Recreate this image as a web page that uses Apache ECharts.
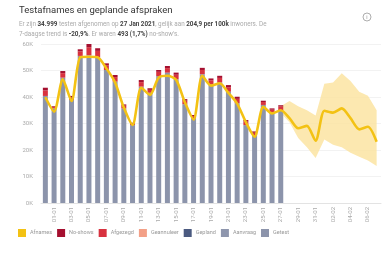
<!DOCTYPE html>
<html>
<head>
<meta charset="utf-8">
<script src="https://cdn.jsdelivr.net/npm/echarts@6/dist/echarts.min.js"></script>
<style>
    html, body { margin: 0; padding: 0; background: #fff; }
    #chart { width: 389px; height: 257px; }
</style>
</head>
<body>
<div id="chart"></div>
<script>
// dagen 31-12 t/m 07-02
var dagen = ['31-12', '01-01', '02-01', '03-01', '04-01', '05-01', '06-01', '07-01', '08-01', '09-01',
    '10-01', '11-01', '12-01', '13-01', '14-01', '15-01', '16-01', '17-01', '18-01', '19-01',
    '20-01', '21-01', '22-01', '23-01', '24-01', '25-01', '26-01', '27-01', '28-01', '29-01',
    '30-01', '31-01', '01-02', '02-02', '03-02', '04-02', '05-02', '06-02', '07-02'];

// afgenomen testen (t/m 27-01)
var afgenomen = [40400, 35700, 47300, 38900, 55500, 55800, 55000, 50200, 45800, 35700,
    29400, 43900, 41600, 47900, 49200, 46700, 37300, 32000, 48600, 44800,
    45500, 42000, 37700, 29400, 25500, 37000, 34100, 34999];
var afgezegd = [2100, 500, 1700, 1000, 1700, 3000, 2400, 1700, 1700, 1000,
    600, 1700, 1100, 1600, 1700, 1700, 1300, 800, 1600, 1500,
    1700, 1700, 1600, 1300, 1000, 1100, 1100, 1400];
var noShows = [1000, 300, 800, 500, 800, 1200, 1000, 800, 800, 500,
    300, 800, 600, 700, 800, 800, 600, 400, 800, 700,
    800, 800, 800, 600, 500, 500, 500, 493];

// trendlijn incl. verwachting
var trend = [39900, 34500, 46700, 38500, 55000, 55200, 55000, 50800, 45500, 36000,
    29500, 43500, 40800, 47300, 48000, 46500, 38000, 31500, 48000, 44300,
    45200, 41500, 37500, 30500, 25000, 36300, 33800, 34999, 32000, 28200,
    29100, 23500, 34800, 34100, 35700, 32000, 27800, 28800, 23100];

// onzekerheidsband vanaf 27-01
var bandStart = 27;
var bandOnder = [34000, 30500, 24500, 21000, 17000, 24000, 22000, 21000, 19000, 17500, 16000, 14000];
var bandBoven = [36500, 38500, 36500, 35000, 33000, 45000, 45500, 49000, 46000, 42000, 40500, 35000];

var legendaNamen = ['Afnames', 'No-shows', 'Afgezegd', 'Geannuleerd', 'Gepland', 'Aanvraag', 'Getest'];

var padLeeg = function (arr, start) {
    var out = [];
    for (var i = 0; i < dagen.length; i++) {
        var j = i - start;
        out.push(j >= 0 && j < arr.length ? arr[j] : '-');
    }
    return out;
};

var onder = padLeeg(bandOnder, bandStart);
var breedte = padLeeg(bandBoven.map(function (v, i) { return v - bandOnder[i]; }), bandStart);

var trendData = trend.map(function (v, i) {
    if (i == 27) {
        return {
            value: v,
            label: {
                show: true, position: 'right', distance: 2,
                formatter: '34.999', fontSize: 7, color: '#444'
            }
        };
    }
    return v;
});

var myChart = echarts.init(document.getElementById('chart'), null, { renderer: 'canvas' });

var option = {
    animation: false,
    textStyle: { fontFamily: 'Roboto, sans-serif' },
    title: {
        left: 14, top: 1,
        text: 'Testafnames en geplande afspraken',
        textStyle: { fontSize: 9.5, fontWeight: 'normal', color: '#333' },
        subtext: '{g|Er zijn }{b|34.999}{g| testen afgenomen op }{b|27 Jan 2021}{g|, gelijk aan }{b|204,9 per 100k}{g| inwoners. De}\n' +
            '{g|7-daagse trend is }{b|-20,9%}{g|. Er waren }{b|493 (1,7%)}{g| no-show\'s.}',
        itemGap: 3,
        subtextStyle: {
            lineHeight: 10.5,
            rich: {
                g: { fontSize: 6.3, color: '#aaa', lineHeight: 10.5 },
                b: { fontSize: 6.3, color: '#444', fontWeight: 'bold', lineHeight: 10.5 }
            }
        }
    },
    graphic: [
        { type: 'circle', shape: { cx: 367, cy: 17, r: 4 }, style: { fill: 'none', stroke: '#999', lineWidth: 0.8 } },
        { type: 'text', x: 367, y: 17, style: { text: 'i', fontSize: 6, fill: '#999', align: 'center', verticalAlign: 'middle' } }
    ],
    legend: {
        left: 18, top: 229, padding: 0,
        icon: 'rect',
        itemWidth: 8, itemHeight: 8, itemGap: 5,
        selectedMode: false,
        data: legendaNamen,
        textStyle: { fontSize: 5.5, color: '#999', width: 31, overflow: 'truncate', ellipsis: '', padding: [0, 0, 0, -1] }
    },
    grid: { left: 41, right: 8, top: 44, bottom: 54, containLabel: false },
    xAxis: {
        type: 'category',
        data: dagen,
        boundaryGap: true,
        axisLine: { lineStyle: { color: '#e3e3e3' } },
        axisTick: { show: false },
        axisLabel: {
            rotate: 90, fontSize: 6, color: '#aaa', margin: 4,
            interval: function (idx) { return idx % 2 == 1; }
        }
    },
    yAxis: {
        type: 'value',
        min: 0, max: 60000, interval: 10000,
        axisLine: { show: false },
        axisTick: { show: false },
        splitLine: { lineStyle: { color: '#efefef', width: 0.8 } },
        axisLabel: {
            fontSize: 6, color: '#aaa', margin: 8,
            formatter: function (v) { return (v / 1000) + 'K'; }
        }
    },
    series: [
        {
            name: 'band-onder', type: 'line', stack: 'band', data: onder,
            symbol: 'none', lineStyle: { opacity: 0 }, silent: true, z: 1
        },
        {
            name: 'band', type: 'line', stack: 'band', data: breedte,
            symbol: 'none', lineStyle: { opacity: 0 }, silent: true, z: 1,
            areaStyle: { color: '#fbe4a2', opacity: 0.85 }
        },
        { name: 'Aanvraag', type: 'bar', stack: 'tot', data: [], itemStyle: { color: '#8e96ad' } },
        { name: 'Getest', type: 'bar', stack: 'tot', data: afgenomen, barWidth: 5, itemStyle: { color: '#8c94ab' }, z: 2 },
        { name: 'Gepland', type: 'bar', stack: 'tot', data: [], itemStyle: { color: '#4b5a80' } },
        { name: 'Geannuleerd', type: 'bar', stack: 'tot', data: [], itemStyle: { color: '#f3a087' } },
        { name: 'Afgezegd', type: 'bar', stack: 'tot', data: afgezegd, itemStyle: { color: '#d8323f' }, z: 2 },
        { name: 'No-shows', type: 'bar', stack: 'tot', data: noShows, itemStyle: { color: '#a50f2f' }, z: 2 },
        {
            name: 'Afnames', type: 'line', data: trendData,
            symbol: 'none', smooth: 0.25, z: 5,
            itemStyle: { color: '#f3c214' },
            lineStyle: { color: '#f3c214', width: 2.6 }
        }
    ]
};
myChart.setOption(option);
</script>
</body>
</html>
